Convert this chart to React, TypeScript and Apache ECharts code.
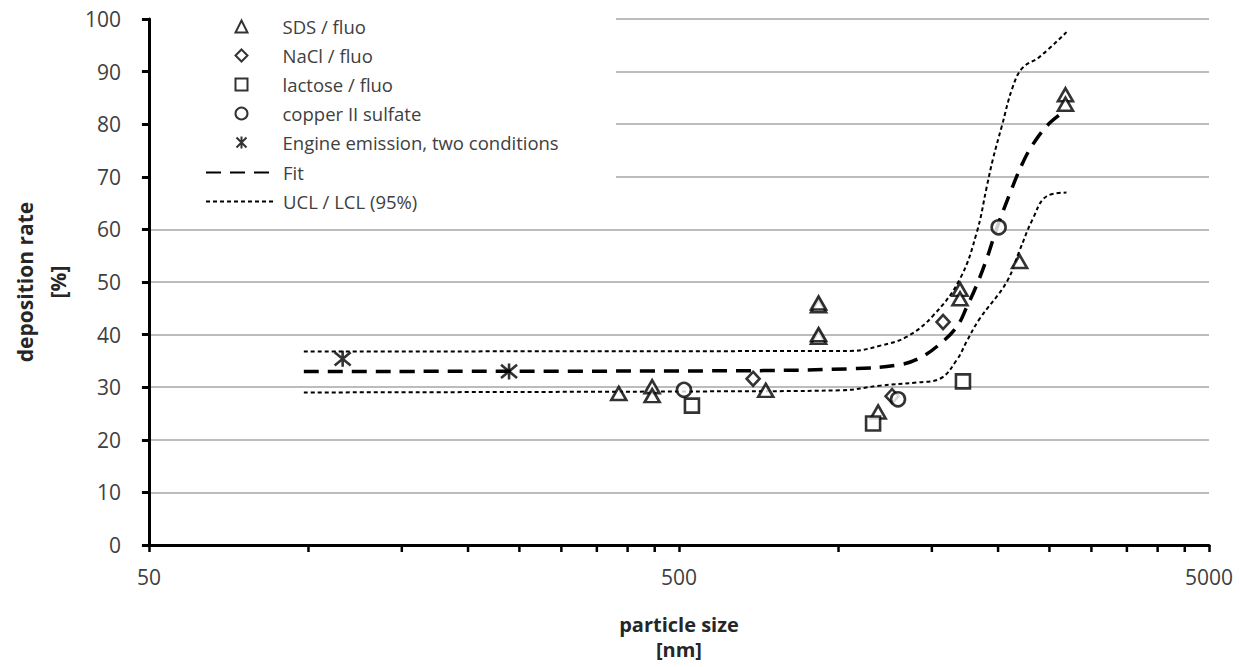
import React, { useEffect, useRef } from 'react';
import * as echarts from 'echarts';

// ---- data (particle size in nm, deposition rate in %) ----
const xTickLabels = ['50', '500', '5000'];
const yTicks = [0, 10, 20, 30, 40, 50, 60, 70, 80, 90, 100];
const minorTickValues = [100, 150, 200, 250, 300, 350, 400, 450, 1000, 1500, 2000, 2500, 3000, 3500, 4000, 4500];

const sdsX = [385, 445, 445, 729, 917, 917, 917, 917, 1188, 1695, 1695, 2196, 2680, 2680];
const sdsY = [28.8, 30.1, 28.4, 29.4, 45.5, 46.0, 39.5, 40.0, 25.3, 48.6, 46.8, 53.9, 85.6, 83.8];

const naclX = [690, 1262, 1575];
const naclY = [31.6, 28.3, 42.4];

const lactoseX = [529, 1162, 1717];
const lactoseY = [26.5, 23.1, 31.1];

const copperX = [511, 1295, 2005];
const copperY = [29.5, 27.7, 60.4];

const engineX = [116, 239];
const engineY = [35.4, 33.0];

const fitX = [98, 550, 1053, 1307, 1426, 1553, 1672, 1747, 1824, 1905, 1990, 2124, 2218, 2314, 2479, 2647];
const fitY = [33.0, 33.1, 33.5, 34.3, 35.6, 38.2, 41.5, 45.3, 49.5, 54.5, 60.3, 67.8, 72.3, 75.8, 79.8, 82.2];

const uclX = [98, 1053, 1199, 1346, 1508, 1695, 1824, 1905, 1955, 2031, 2132, 2224, 2395, 2692];
const uclY = [36.8, 36.9, 37.9, 39.6, 43.6, 50.6, 59.5, 68.2, 73.3, 79.5, 87.1, 90.7, 92.8, 97.5];

const lclX = [98, 550, 1008, 1199, 1406, 1553, 1672, 1747, 1840, 2076, 2196, 2323, 2470, 2692];
const lclY = [29.0, 29.2, 29.4, 30.3, 30.9, 31.6, 35.2, 38.8, 42.8, 50.0, 56.0, 61.9, 66.3, 67.0];

const lg = (v: number) => Math.log10(v / 50);
const pairs = (xs: number[], ys: number[]) => xs.map((x, i) => [lg(x), ys[i]]);

const FONT = '"Open Sans", Lato, sans-serif';
const ASTERISK = 'path://M0,0L10,10M10,0L0,10M5,-1L5,11';

const markerStyle = { color: '#fff', borderColor: '#000', borderWidth: 2.6 };

export default function App() {
  const ref = useRef<HTMLDivElement>(null);
  useEffect(() => {
    if (!ref.current) return;
    const chart = echarts.init(ref.current, undefined, { renderer: 'svg' });
    const yMin = yTicks[0];
    const yMax = yTicks[yTicks.length - 1];
    const option: any = {
      animation: false,
      backgroundColor: '#fff',
      grid: { left: 146, right: 31, top: 19, bottom: 113 },
      xAxis: {
        type: 'value',
        min: 0,
        max: 2,
        interval: 1,
        name: 'particle size\n[nm]',
        nameLocation: 'middle',
        nameGap: 67,
        nameTextStyle: { fontFamily: FONT, fontSize: 20, fontWeight: 'bold', color: '#262626', lineHeight: 25 },
        axisLine: { lineStyle: { color: '#000', width: 3 } },
        axisTick: { length: 7, lineStyle: { color: '#000', width: 2.5 } },
        axisLabel: {
          margin: 21,
          fontFamily: FONT,
          fontSize: 21,
          color: '#404040',
          formatter: (v: number) => xTickLabels[Math.round(v)] ?? '',
        },
        splitLine: { show: false },
        z: 5,
      },
      yAxis: [
        {
          type: 'value',
          min: yMin,
          max: yMax,
          interval: 10,
          axisLine: { show: false },
          axisTick: { show: false },
          axisLabel: { show: false },
          splitLine: { lineStyle: { color: '#a6a6a6', width: 1.5 } },
          z: 0,
        },
        {
          type: 'value',
          position: 'left',
          min: yMin,
          max: yMax,
          interval: 10,
          name: 'deposition rate\n[%]',
          nameLocation: 'middle',
          nameGap: 74,
          nameTextStyle: { fontFamily: FONT, fontSize: 21, fontWeight: 'bold', color: '#262626', lineHeight: 33 },
          axisLine: { show: true, lineStyle: { color: '#000', width: 3 } },
          axisTick: { show: true, length: 7, lineStyle: { color: '#000', width: 3 } },
          axisLabel: { margin: 28, fontFamily: FONT, fontSize: 21, color: '#404040' },
          splitLine: { show: false },
          z: 5,
        },
      ],
      legend: [
        {
          data: ['SDS / fluo', 'NaCl / fluo', 'lactose / fluo', 'copper II sulfate', 'Engine emission, two conditions'],
          orient: 'vertical',
          left: 234,
          top: 16,
          padding: 0,
          itemWidth: 12,
          itemHeight: 12,
          itemGap: 8,
          selectedMode: false,
          textStyle: { fontFamily: FONT, fontSize: 18.5, color: '#404040', lineHeight: 21, padding: [0, 0, 0, 30] },
        },
        {
          data: ['Fit', 'UCL / LCL (95%)'],
          orient: 'vertical',
          left: 205,
          top: 162,
          padding: 0,
          itemWidth: 67,
          itemHeight: 14,
          itemGap: 8,
          selectedMode: false,
          itemStyle: { opacity: 0 },
          textStyle: { fontFamily: FONT, fontSize: 18.5, color: '#404040', lineHeight: 21, padding: [0, 0, 0, 5] },
        },
      ],
      graphic: {
        elements: [
          {
            type: 'rect',
            z: 3,
            silent: true,
            shape: { x: 149, y: 0, width: 467, height: 218 },
            style: { fill: '#fff' },
          },
        ],
      },
      series: [
        {
          name: 'Fit',
          type: 'line',
          data: pairs(fitX, fitY),
          smooth: 0.4,
          symbol: 'none',
          itemStyle: { color: '#000' },
          lineStyle: { color: '#000', width: 3.5, type: [15, 9] },
          z: 3,
        },
        {
          name: 'UCL / LCL (95%)',
          type: 'line',
          data: pairs(uclX, uclY),
          smooth: 0.4,
          symbol: 'none',
          itemStyle: { color: '#000' },
          lineStyle: { color: '#000', width: 2, type: [4, 3] },
          z: 3,
        },
        {
          name: 'UCL / LCL (95%)',
          type: 'line',
          data: pairs(lclX, lclY),
          smooth: 0.4,
          symbol: 'none',
          itemStyle: { color: '#000' },
          lineStyle: { color: '#000', width: 2, type: [4, 3] },
          z: 3,
        },
        {
          name: 'SDS / fluo',
          type: 'scatter',
          symbol: 'triangle',
          symbolSize: [15, 13],
          itemStyle: markerStyle,
          data: pairs(sdsX, sdsY),
          z: 5,
        },
        {
          name: 'NaCl / fluo',
          type: 'scatter',
          symbol: 'diamond',
          symbolSize: [13, 14],
          itemStyle: markerStyle,
          data: pairs(naclX, naclY),
          z: 5,
        },
        {
          name: 'lactose / fluo',
          type: 'scatter',
          symbol: 'rect',
          symbolSize: 14,
          itemStyle: markerStyle,
          data: pairs(lactoseX, lactoseY),
          z: 5,
        },
        {
          name: 'copper II sulfate',
          type: 'scatter',
          symbol: 'circle',
          symbolSize: 14,
          itemStyle: markerStyle,
          data: pairs(copperX, copperY),
          z: 5,
        },
        {
          name: 'Engine emission, two conditions',
          type: 'scatter',
          symbol: ASTERISK,
          symbolSize: 16,
          itemStyle: { color: 'none', borderColor: '#000', borderWidth: 2.6 },
          data: pairs(engineX, engineY),
          z: 5,
        },
        {
          type: 'custom',
          silent: true,
          clip: false,
          z: 6,
          data: minorTickValues.map((v) => [lg(v), 0]),
          renderItem: (params: any, api: any) => {
            const p = api.coord([api.value(0), 0]);
            return {
              type: 'line',
              shape: { x1: p[0], y1: p[1], x2: p[0], y2: p[1] + 7 },
              style: { stroke: '#000', lineWidth: 2.5 },
            };
          },
        },
      ],
    };
    chart.setOption(option);
    return () => chart.dispose();
  }, []);
  return (
    <div
      ref={ref}
      style={{ position: 'absolute', left: 0, top: 0, width: 1240, height: 667 }}
    />
  );
}
